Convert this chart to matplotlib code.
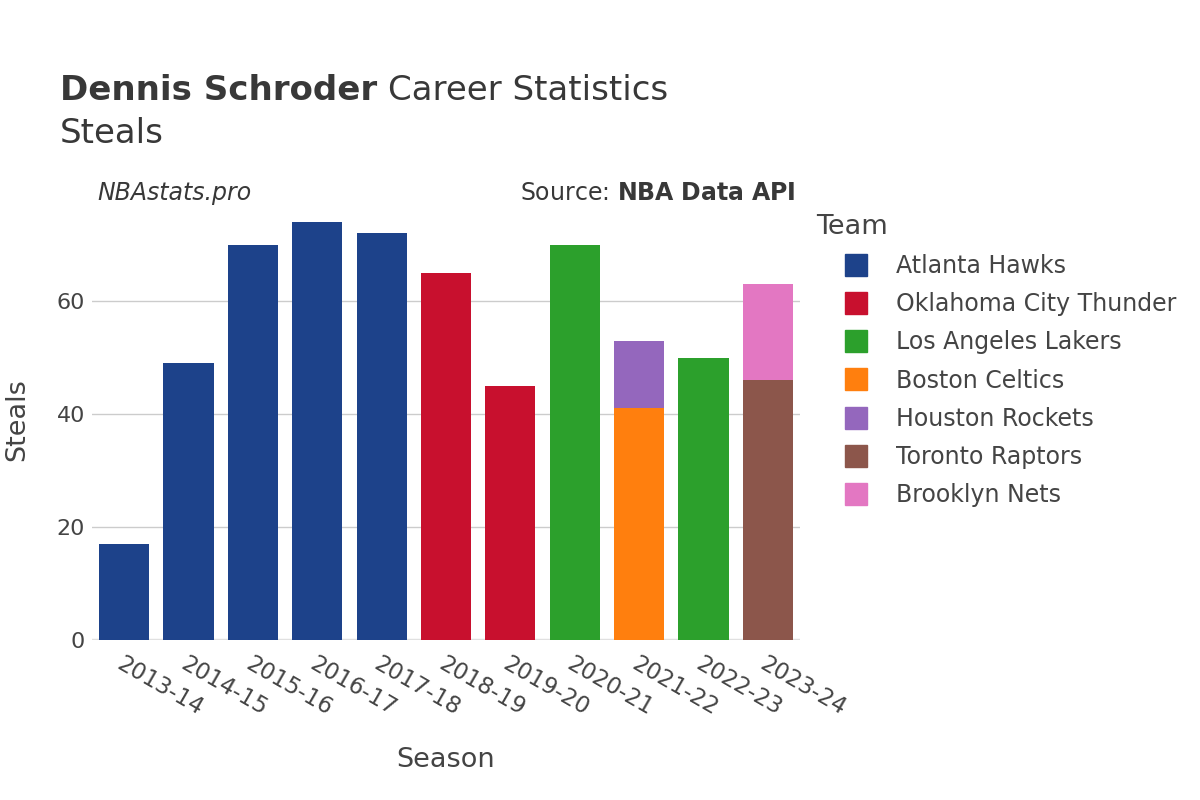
import matplotlib
matplotlib.use("Agg")
import matplotlib.pyplot as plt
from matplotlib.lines import Line2D
import numpy as np

plt.rcParams["font.family"] = ["DejaVu Sans"]

# ── Data ──────────────────────────────────────────────────────────────────────
seasons = ["2013-14", "2014-15", "2015-16", "2016-17", "2017-18", "2018-19",
           "2019-20", "2020-21", "2021-22", "2022-23", "2023-24"]
teams = ["Atlanta Hawks", "Oklahoma City Thunder", "Los Angeles Lakers",
         "Boston Celtics", "Houston Rockets", "Toronto Raptors", "Brooklyn Nets"]
team_colors = ["#1d428a", "#c8102e", "#2ca02c", "#ff7f0e", "#9467bd",
               "#8c564b", "#e377c2"]

atl = [17, 49, 70, 74, 72, 0, 0, 0, 0, 0, 0]
okc = [0, 0, 0, 0, 0, 65, 45, 0, 0, 0, 0]
lal = [0, 0, 0, 0, 0, 0, 0, 70, 0, 50, 0]
bos = [0, 0, 0, 0, 0, 0, 0, 0, 41, 0, 0]
hou = [0, 0, 0, 0, 0, 0, 0, 0, 12, 0, 0]
tor = [0, 0, 0, 0, 0, 0, 0, 0, 0, 0, 46]
bkn = [0, 0, 0, 0, 0, 0, 0, 0, 0, 0, 17]
steals = [atl, okc, lal, bos, hou, tor, bkn]

TEXT = "#444444"
TITLE = "#383838"
W, H = 1200, 800

fig = plt.figure(figsize=(12, 8), dpi=100)
ax = fig.add_axes([92 / W, 0.2, 708 / W, 0.55])

x = np.arange(len(seasons))
bottom = np.zeros(len(seasons))
for vals, color in zip(steals, team_colors):
    vals = np.array(vals, dtype=float)
    ax.bar(x, vals, bottom=bottom, width=0.78, color=color, zorder=2,
           linewidth=0)
    bottom += vals

ax.set_xlim(-0.5, len(seasons) - 0.5)
ax.set_ylim(0, 77.9)
ax.set_yticks([0, 20, 40, 60])
ax.set_yticklabels(["0", "20", "40", "60"], fontsize=16, color=TEXT)
ax.set_xticks(x)
ax.set_xticklabels(seasons, rotation=-30, ha="left", va="top",
                   rotation_mode="anchor", fontsize=16.5, color=TEXT)
ax.tick_params(axis="y", length=0, pad=5)
ax.tick_params(axis="x", length=0, pad=9)
for spine in ax.spines.values():
    spine.set_visible(False)
ax.grid(axis="y", color="#cccccc", linewidth=1, zorder=0)
ax.axhline(0, color="#e5e5e5", linewidth=2.5, zorder=1)

# axis titles
fig.text(17 / W, 1 - 420 / H, "Steals", fontsize=19.5, color=TEXT,
         rotation=90, ha="center", va="center")
fig.text(446 / W, 1 - 760 / H, "Season", fontsize=19.5, color=TEXT,
         ha="center", va="center")

# ── Titles ────────────────────────────────────────────────────────────────────
t1 = fig.text(60 / W, 1 - 100 / H, "Dennis Schroder", fontsize=24.5,
              fontweight="bold", color=TITLE, va="baseline")
fig.canvas.draw()
bb = t1.get_window_extent(renderer=fig.canvas.get_renderer())
fig.text(bb.x1 / W + 11 / W, 1 - 100 / H, "Career Statistics", fontsize=24.5,
         color=TITLE, va="baseline")
fig.text(60 / W, 1 - 143 / H, "Steals", fontsize=24.5, color=TITLE,
         va="baseline")
fig.text(97 / W, 1 - 200 / H, "NBAstats.pro", fontsize=17, style="italic",
         color=TITLE, va="baseline")
fig.text(796 / W, 1 - 200 / H, "Source: $\\bf{NBA\\ Data\\ API}$", fontsize=17,
         color=TITLE, va="baseline", ha="right")

# ── Legend ────────────────────────────────────────────────────────────────────
handles = [Line2D([0], [0], marker="s", linestyle="none", markersize=16,
                  markerfacecolor=c, markeredgecolor=c) for c in team_colors]
leg = ax.legend(handles, teams, loc="upper left",
                bbox_to_anchor=(816 / W, 1 - 214 / H),
                bbox_transform=fig.transFigure, frameon=False, title="Team",
                fontsize=17, title_fontsize=19.5, labelspacing=0.6,
                handletextpad=0.0, borderaxespad=0, borderpad=0,
                handlelength=3.4)
leg._legend_box.align = "left"
for t in leg.get_texts():
    t.set_color(TEXT)
leg.get_title().set_color(TEXT)

fig.savefig("out.png", dpi=100, facecolor="white")
